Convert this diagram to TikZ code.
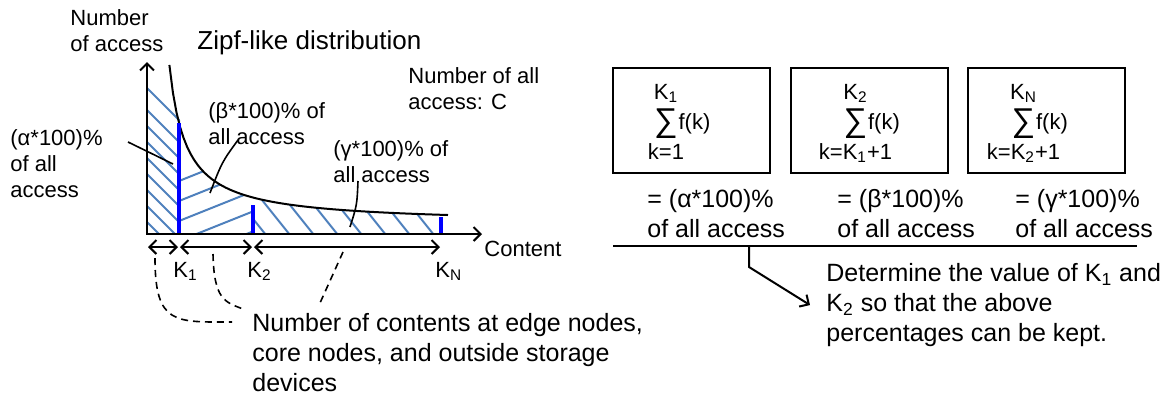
\documentclass[tikz,border=0pt]{standalone}
\usepackage{fontspec}
\setmainfont{Liberation Sans}
\usepackage{tikz}
\usetikzlibrary{positioning,arrows.meta}

\definecolor{hatchblue}{RGB}{79,129,189}
\definecolor{kblue}{RGB}{0,0,255}

\tikzset{
	smalltext/.style={inner sep=0pt, align=left, font=\fontsize{11}{13}\selectfont},
	bigtext/.style={inner sep=0pt, align=left, font=\fontsize{12.5}{15}\selectfont},
	titletext/.style={inner sep=0pt, font=\fontsize{13}{15}\selectfont},
	sigma/.style={inner sep=0pt, font=\fontsize{16.5}{16.5}\selectfont},
	sumbox/.style={rectangle, draw=black, line width=1.1pt, minimum width=78.5pt, minimum height=52.5pt},
	hatch/.style={draw=hatchblue, line width=1pt},
	kline/.style={draw=kblue, line width=1.6pt},
	barb/.style={>={Straight Barb[length=3.5pt, width=7pt, line width=1pt]}},
	axis/.style={draw, line width=1.2pt, barb},
	span/.style={draw, line width=1pt, <->, barb},
	leader/.style={draw, line width=0.8pt},
	guide/.style={draw, line width=0.8pt, dash pattern=on 3.5pt off 2.5pt},
}

\begin{document}
\begin{tikzpicture}[x=0.5pt, y=-0.5pt]
	\useasboundingbox (0,0) rectangle (1174,398);
	
	% hatching of the three parts
	\begin{scope}
		\clip (147,82) -- (180,116) -- (180,234) -- (147,234) -- cycle;
		\foreach \y in {88,110,126,142,158,174,190,206,222}
			\draw[hatch] (140,\y-7) -- ++(60,60);
	\end{scope}
	\begin{scope}
		\clip (169.4,234) -- plot[domain=169.4:448, samples=80] (\x,{224-2656/(\x-152.7)}) -- (448,234) -- cycle;
		\begin{scope}
			\clip (180,0) rectangle (253,234);
			\foreach \y in {181,201,...,301}
				\draw[hatch] (175,\y+1.6) -- ++(100,-40);
		\end{scope}
		\begin{scope}
			\clip (253,0) rectangle (441,234);
			\foreach \x in {238,262,...,454}
				\draw[hatch] (\x,200) -- ++(32,40);
		\end{scope}
	\end{scope}
	
	% zipf curve
	\draw[line width=1pt] plot[domain=169.4:448, samples=80] (\x,{224-2656/(\x-152.7)});
	
	\draw[kline] (179,123) -- (179,234);
	\draw[kline] (253,205) -- (253,234);
	\draw[kline] (441,217) -- (441,234);
	
	\coordinate (ytop) at (147,62);
	\coordinate (O) at (147,234);
	\coordinate (xend) at (482,234);
	\draw[axis, <->] (ytop) -- (O) -- (xend);
	
	\coordinate (sp0) at (148,247);
	\coordinate (sp1) at (178,247);
	\coordinate (sp2) at (180,247);
	\coordinate (sp3) at (252,247);
	\coordinate (sp4) at (254,247);
	\coordinate (sp5) at (440,247);
	\draw[span] (sp0) -- (sp1);
	\draw[span] (sp2) -- (sp3);
	\draw[span] (sp4) -- (sp5);
	
	\node[smalltext, anchor=base west] (k1) at (173,277) {K\textsubscript{1}};
	\node[smalltext, anchor=base west] (k2) at (247,277) {K\textsubscript{2}};
	\node[smalltext, anchor=base west] (kn) at (435,277) {K\textsubscript{N}};
	\node[smalltext, anchor=base west] (content) at (484,256) {Content};
	
	\node[smalltext, anchor=north west] (ylab) at (70,9) {Number\\of access};
	\node[titletext, anchor=base west] (title) at (197,49) {Zipf-like distribution};
	\node[smalltext, anchor=north west] (total) at (408,67) {Number of all\\access: C};
	\node[smalltext, anchor=north west] (alab) at (10,129) {(α*100)\%\\of all\\access};
	\node[smalltext, anchor=north west] (blab) at (208,102) {(β*100)\% of\\all access};
	\node[smalltext, anchor=north west] (glab) at (333,140) {(γ*100)\% of\\all access};
	
	\coordinate (a0) at (128,142);
	\coordinate (a1) at (173,164);
	\coordinate (b0) at (238,140);
	\coordinate (b1) at (210,193);
	\coordinate (c0) at (358,181);
	\coordinate (c1) at (350,227);
	\draw[leader] (a0) -- (a1);
	\draw[leader] (b0) .. controls (222,162) .. (b1);
	\draw[leader] (c0) .. controls (357,205) .. (c1);
	
	\node[bigtext, anchor=north west] (ncont) at (252,313) {Number of contents at edge nodes,\\core nodes, and outside storage\\devices};
	
	\coordinate (g1) at (155,258);
	\coordinate (g2) at (213,254);
	\coordinate (g3) at (343,252);
	\draw[guide] (g1) .. controls (155,325) and (175,322) .. (232,322);
	\draw[guide] (g2) .. controls (214,300) and (225,302) .. (243,309);
	\draw[guide] (g3) -- (320,303);
	
	% the three sums
	\node[sumbox] (box1) at (691.5,120.5) {};
	\node[sumbox] (box2) at (869.5,120.5) {};
	\node[sumbox] (box3) at (1046.5,120.5) {};
	
	\node[sigma] (s1) at (666,124) {∑};
	\node[smalltext, above=3pt of s1] (u1) {K\textsubscript{1}};
	\node[smalltext, below=2pt of s1] (l1) {k=1};
	\node[smalltext, right=0pt of s1] (f1) {f(k)};
	
	\node[sigma] (s2) at (855.5,124) {∑};
	\node[smalltext, above=3pt of s2] (u2) {K\textsubscript{2}};
	\node[smalltext, below=2pt of s2] (l2) {k=K\textsubscript{1}+1};
	\node[smalltext, right=0pt of s2] (f2) {f(k)};
	
	\node[sigma] (s3) at (1023.5,124) {∑};
	\node[smalltext, above=3pt of s3] (u3) {K\textsubscript{N}};
	\node[smalltext, below=2pt of s3] (l3) {k=K\textsubscript{2}+1};
	\node[smalltext, right=0pt of s3] (f3) {f(k)};
	
	\node[bigtext, anchor=north west] (eq1) at (647,189) {= (α*100)\%\\of all access};
	\node[bigtext, anchor=north west] (eq2) at (837,189) {= (β*100)\%\\of all access};
	\node[bigtext, anchor=north west] (eq3) at (1015,189) {= (γ*100)\%\\of all access};
	
	\coordinate (rl) at (613,246);
	\coordinate (rr) at (1137,246);
	\draw[line width=1.3pt] (rl) -- (rr);
	
	\node[bigtext, anchor=north west] (det) at (826,263) {Determine the value of K\textsubscript{1} and\\K\textsubscript{2} so that the above\\percentages can be kept.};
	\coordinate (bend0) at (749,246);
	\coordinate (bend1) at (749,267);
	\draw[line width=1pt, ->, barb] (bend0) -- (bend1) -- ([xshift=-8pt]det.west);
\end{tikzpicture}
\end{document}
